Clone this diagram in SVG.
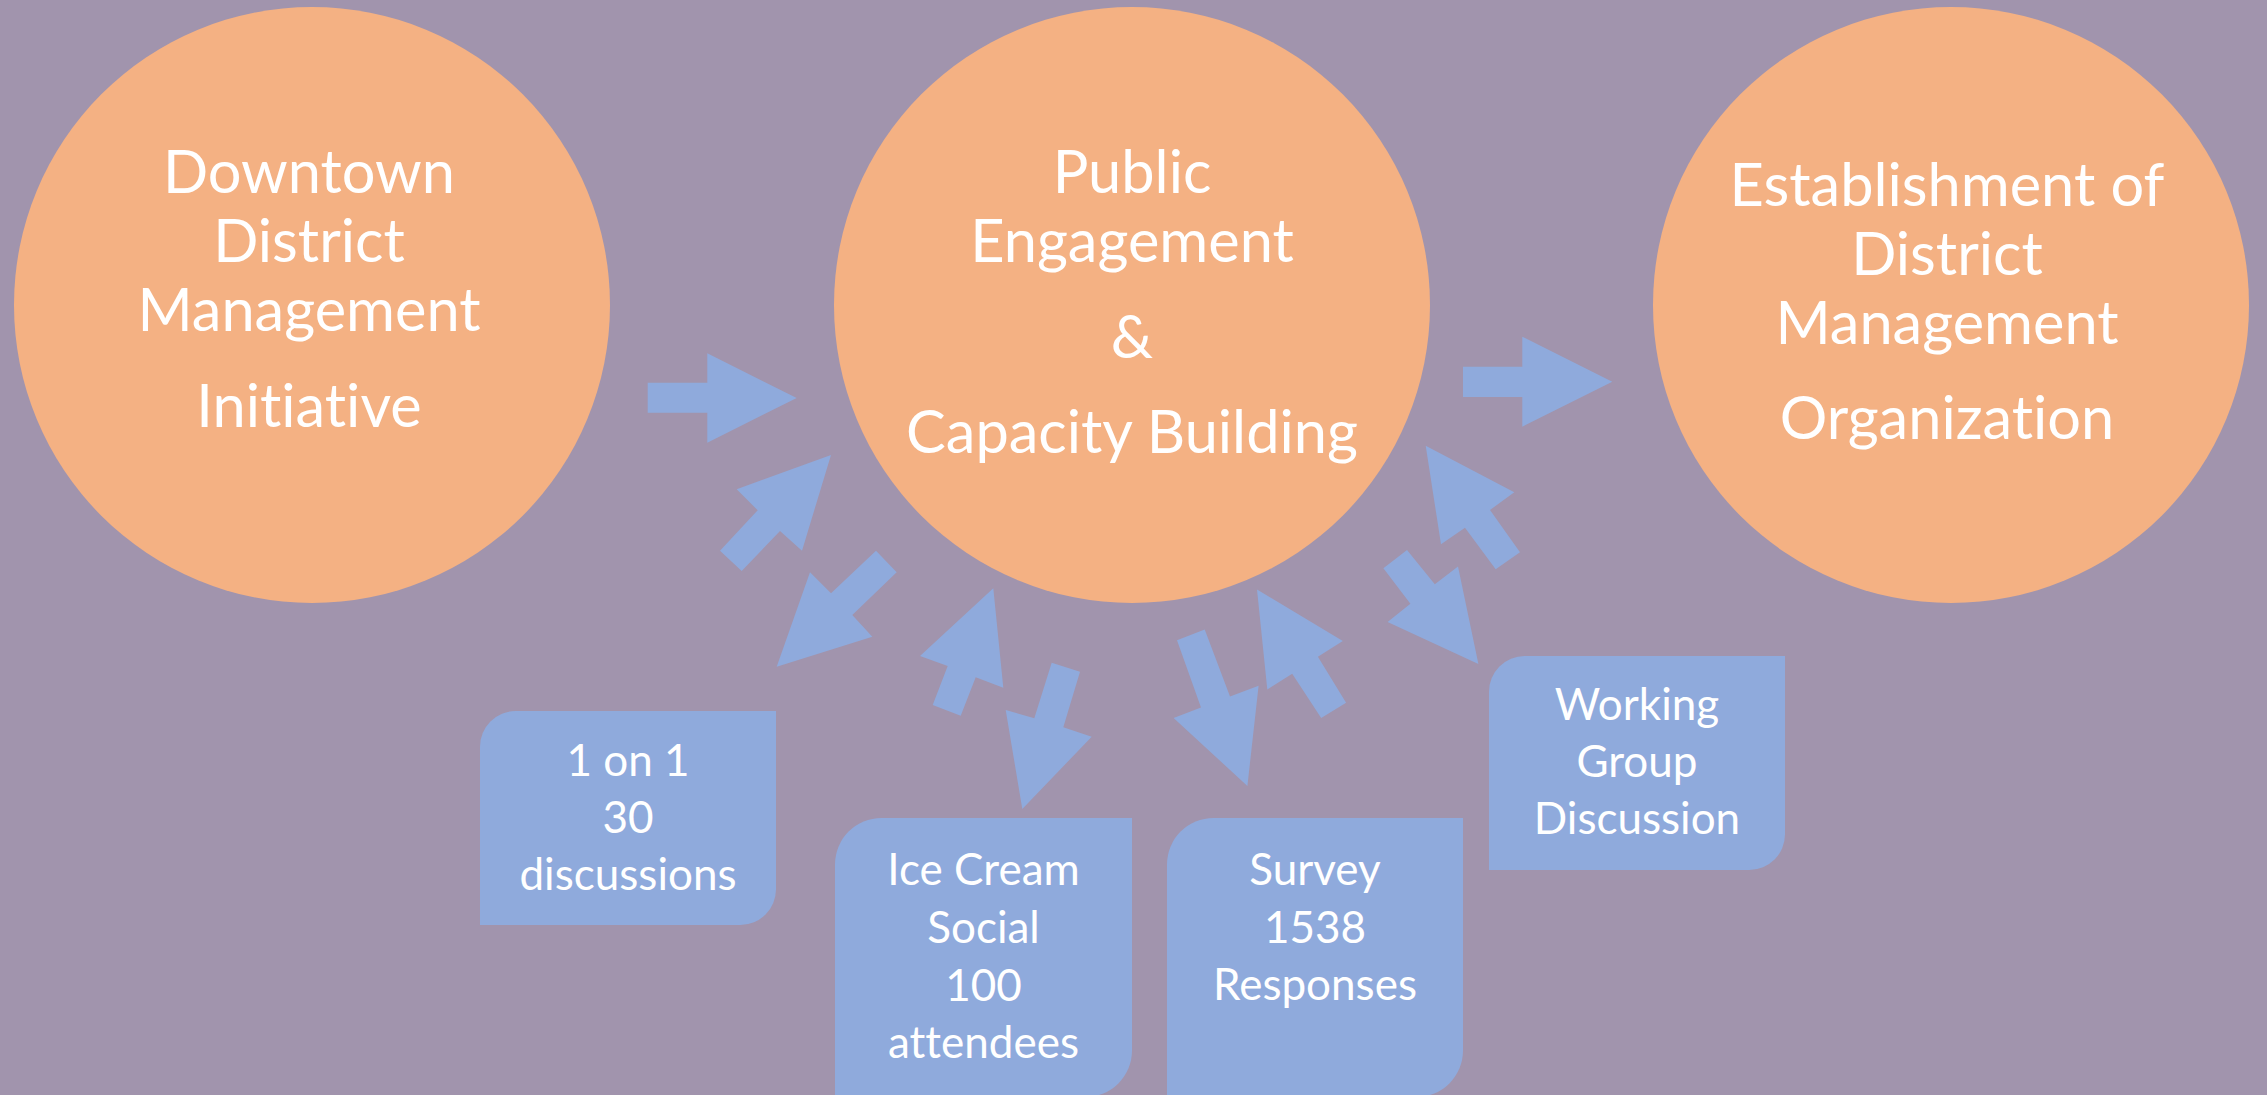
<svg xmlns="http://www.w3.org/2000/svg" width="2267" height="1095" viewBox="0 0 2267 1095">
<style>
.bg{fill:#A194AD}
.circ{fill:#F4B183}
.box{fill:#8FAADC}
.arr{fill:#8FAADC}
text{font-variant-ligatures:none;font-feature-settings:"liga" 0,"clig" 0,"dlig" 0}
.ct{font-family:Lato,"Liberation Sans",sans-serif;font-size:59.5px;fill:#FFFFFF;text-anchor:middle}
.bt{font-family:Lato,"Liberation Sans",sans-serif;font-size:44px;fill:#FFFFFF;text-anchor:middle}
</style>
<rect class="bg" x="0" y="0" width="2267" height="1095"/>
<g id="node-initiative">
<circle class="circ" cx="312" cy="305" r="298"/>
<text class="ct" x="309" y="193">Downtown</text>
<text class="ct" x="309" y="262">District</text>
<text class="ct" x="309" y="331">Management</text>
<text class="ct" x="309" y="427">Initiative</text>
</g>
<g id="node-engagement">
<circle class="circ" cx="1132" cy="305" r="298"/>
<text class="ct" x="1132" y="193">Public</text>
<text class="ct" x="1132" y="262">Engagement</text>
<text class="ct" x="1132" y="358">&amp;</text>
<text class="ct" x="1132" y="453">Capacity Building</text>
</g>
<g id="node-organization">
<circle class="circ" cx="1951" cy="305" r="298"/>
<text class="ct" x="1947" y="206">Establishment of</text>
<text class="ct" x="1947" y="275">District</text>
<text class="ct" x="1947" y="344">Management</text>
<text class="ct" x="1947" y="439">Organization</text>
</g>
<g id="node-oneonone">
<path class="box" d="M515.7 711H776V889.3A35.7 35.7 0 0 1 740.3 925H480V746.7A35.7 35.7 0 0 1 515.7 711Z"/>
<text class="bt" x="628" y="776">1 on 1</text>
<text class="bt" x="628" y="833">30</text>
<text class="bt" x="628" y="890">discussions</text>
</g>
<g id="node-icecream">
<path class="box" d="M881.5 818H1132V1050.5A46.5 46.5 0 0 1 1085.5 1097H835V864.5A46.5 46.5 0 0 1 881.5 818Z"/>
<text class="bt" x="983.5" y="885">Ice Cream</text>
<text class="bt" x="983.5" y="943">Social</text>
<text class="bt" x="983.5" y="1001">100</text>
<text class="bt" x="983.5" y="1058">attendees</text>
</g>
<g id="node-survey">
<path class="box" d="M1213.5 818H1463V1050.5A46.5 46.5 0 0 1 1416.5 1097H1167V864.5A46.5 46.5 0 0 1 1213.5 818Z"/>
<text class="bt" x="1315" y="885">Survey</text>
<text class="bt" x="1315" y="943">1538</text>
<text class="bt" x="1315" y="1000">Responses</text>
</g>
<g id="node-workinggroup">
<path class="box" d="M1524.7 656H1785V834.3A35.7 35.7 0 0 1 1749.3 870H1489V691.7A35.7 35.7 0 0 1 1524.7 656Z"/>
<text class="bt" x="1637" y="720">Working</text>
<text class="bt" x="1637" y="777">Group</text>
<text class="bt" x="1637" y="834">Discussion</text>
</g>
<g id="connectors">
<polygon class="arr" points="647.7,382.7 707.3,382.7 707.3,353.3 796.7,398 707.3,442.7 707.3,412.7 647.7,412.7"/>
<polygon class="arr" points="1463,366.7 1522.3,366.7 1522.3,336.7 1612.3,381.7 1522.3,426.7 1522.3,397 1463,397"/>
<polygon class="arr" points="831,455 736.7,489.3 757.7,510.3 720,550.7 741.7,571 780,531 802,550.7"/>
<polygon class="arr" points="876,550.7 831,593.3 810,572.3 776.7,666.7 872.3,636.7 852.3,615 896.7,572.3"/>
<polygon class="arr" points="993.3,588.3 920,656 947.7,666 932.7,705 960.7,715.7 975.7,677.3 1003.3,687.7"/>
<polygon class="arr" points="1051.7,662.7 1034.3,718.3 1005.7,710 1022.3,809 1091.7,736.7 1063.3,727.3 1080,671.7"/>
<polygon class="arr" points="1204.7,629.6 1230,696.5 1258.6,685.8 1247.4,786 1173.6,718 1201,707.4 1177,640.2"/>
<polygon class="arr" points="1257,589.6 1342.8,640.9 1317.9,656.8 1346.1,702.8 1321.2,718 1292.2,673.8 1267.3,689.4"/>
<polygon class="arr" points="1407,549.9 1434.8,584.2 1458,566.5 1478.4,663.9 1387.6,622.1 1410.4,603.7 1383.4,568.3"/>
<polygon class="arr" points="1425.7,445.7 1514.3,492.3 1490,510 1520,552.3 1495.7,569.3 1465,527.7 1441,544.3"/>
</g>
</svg>
